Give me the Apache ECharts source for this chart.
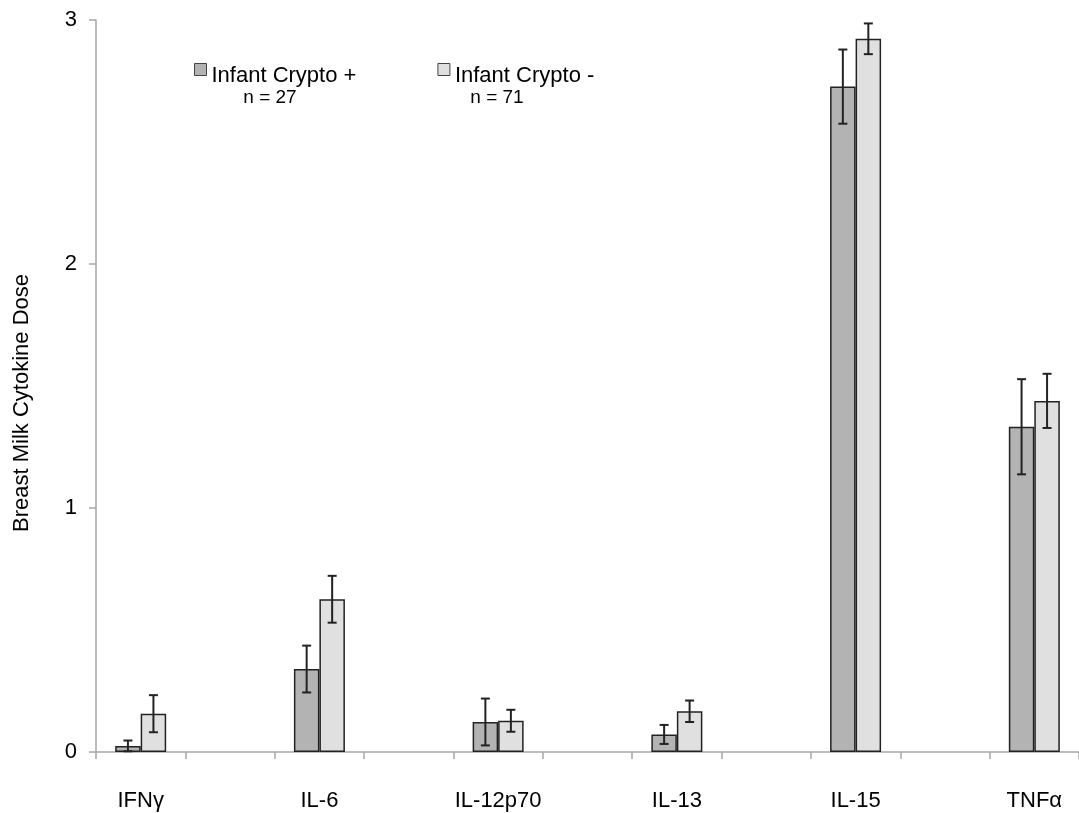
<!DOCTYPE html>
<html>
<head>
<meta charset="utf-8">
<script src="https://cdn.jsdelivr.net/npm/echarts@6/dist/echarts.min.js"></script>
<style>
html,body{margin:0;padding:0;background:#fff;}
#chart{width:1079px;height:813px;}
</style>
</head>
<body>
<div id="chart"></div>
<script>
// Categories (blank entries are spacer slots between cytokines)
var categories = ['IFNγ', '', 'IL-6', '', 'IL-12p70', '', 'IL-13', '', 'IL-15', '', 'TNFα'];
// Infant Crypto + (n = 27)
var cryptoPos = [0.025, '-', 0.340, '-', 0.123, '-', 0.072, '-', 2.727, '-', 1.333];
var cryptoPosErr = [0.022, '-', 0.096, '-', 0.096, '-', 0.039, '-', 0.152, '-', 0.195];
// Infant Crypto - (n = 71)
var cryptoNeg = [0.157, '-', 0.626, '-', 0.128, '-', 0.167, '-', 2.923, '-', 1.439];
var cryptoNegErr = [0.076, '-', 0.096, '-', 0.045, '-', 0.044, '-', 0.063, '-', 0.111];
var seriesNames = ['Infant Crypto +', 'Infant Crypto -'];
var nLabels = ['n = 27', 'n = 71'];
var yTicks = [0, 1, 2, 3];

var FONT = 'Liberation Sans, Arial, sans-serif';
var BAR_W = 25.5;

function errData(vals, errs) {
  var out = [];
  for (var i = 0; i < vals.length; i++) {
    if (vals[i] === '-' || errs[i] === '-') continue;
    out.push([i, vals[i], errs[i]]);
  }
  return out;
}

function errRenderer(side) {
  return function (params, api) {
    var i = api.value(0), v = api.value(1), e = api.value(2);
    var xc = api.coord([i, v])[0] + side * BAR_W / 2;
    var top = api.coord([i, v + e])[1];
    var bot = api.coord([i, Math.max(0, v - e)])[1];
    var cap = 4.5;
    var st = { stroke: '#222', lineWidth: 2 };
    return {
      type: 'group',
      children: [
        { type: 'line', shape: { x1: xc, y1: top, x2: xc, y2: bot }, style: st },
        { type: 'line', shape: { x1: xc - cap, y1: top, x2: xc + cap, y2: top }, style: st },
        { type: 'line', shape: { x1: xc - cap, y1: bot, x2: xc + cap, y2: bot }, style: st }
      ]
    };
  };
}

var chart = echarts.init(document.getElementById('chart'), null, { renderer: 'canvas' });
chart.setOption({
  animation: false,
  backgroundColor: '#fff',
  textStyle: { fontFamily: FONT },
  grid: { left: 96, right: -7, top: 20, bottom: 61, containLabel: false },
  legend: {
    data: seriesNames,
    left: 194, top: 63,
    padding: 0,
    itemWidth: 12, itemHeight: 12, itemGap: 81,
    icon: 'rect',
    selectedMode: false,
    formatter: function (name) { return '{t|' + name + '}'; },
    textStyle: {
      fontSize: 22, color: '#000', fontFamily: FONT,
      rich: { t: { fontSize: 22, fontFamily: FONT, color: '#000', padding: [12, 0, 0, 0] } }
    },
    itemStyle: { borderColor: '#444', borderWidth: 1 }
  },
  graphic: [
    { type: 'text', x: 22, y: 403, rotation: Math.PI / 2,
      style: { text: 'Breast Milk Cytokine Dose', fontSize: 22, fontFamily: FONT, fill: '#000', align: 'center', verticalAlign: 'middle' } },
    { type: 'text', x: 270, y: 98,
      style: { text: nLabels[0], fontSize: 19, fontFamily: FONT, fill: '#000', align: 'center', verticalAlign: 'middle' } },
    { type: 'text', x: 497, y: 98,
      style: { text: nLabels[1], fontSize: 19, fontFamily: FONT, fill: '#000', align: 'center', verticalAlign: 'middle' } }
  ],
  xAxis: {
    type: 'category',
    data: categories,
    boundaryGap: true,
    axisLine: { lineStyle: { color: '#a6a6a6', width: 1.5 } },
    axisTick: { show: true, interval: 0, length: 7, lineStyle: { color: '#a6a6a6', width: 1.5 } },
    axisLabel: { interval: 0, fontSize: 22, color: '#000', margin: 38, fontFamily: FONT },
    splitLine: { show: false }
  },
  yAxis: {
    type: 'value',
    min: yTicks[0], max: yTicks[yTicks.length - 1], interval: 1,
    axisLine: { show: true, lineStyle: { color: '#a6a6a6', width: 1.5 } },
    axisTick: { show: true, length: 7, lineStyle: { color: '#a6a6a6', width: 1.5 } },
    axisLabel: { fontSize: 22, color: '#000', margin: 19, fontFamily: FONT },
    splitLine: { show: false }
  },
  series: [
    {
      name: seriesNames[0], type: 'bar', data: cryptoPos,
      barWidth: BAR_W, barGap: '0%',
      itemStyle: { color: '#b3b3b3', borderColor: '#222', borderWidth: 1.5 }
    },
    {
      name: seriesNames[1], type: 'bar', data: cryptoNeg,
      barWidth: BAR_W, barGap: '0%',
      itemStyle: { color: '#e0e0e0', borderColor: '#222', borderWidth: 1.5 }
    },
    {
      type: 'custom', renderItem: errRenderer(-1), data: errData(cryptoPos, cryptoPosErr),
      encode: { x: 0, y: 1 }, z: 5, silent: true
    },
    {
      type: 'custom', renderItem: errRenderer(1), data: errData(cryptoNeg, cryptoNegErr),
      encode: { x: 0, y: 1 }, z: 5, silent: true
    }
  ]
});
</script>
</body>
</html>
